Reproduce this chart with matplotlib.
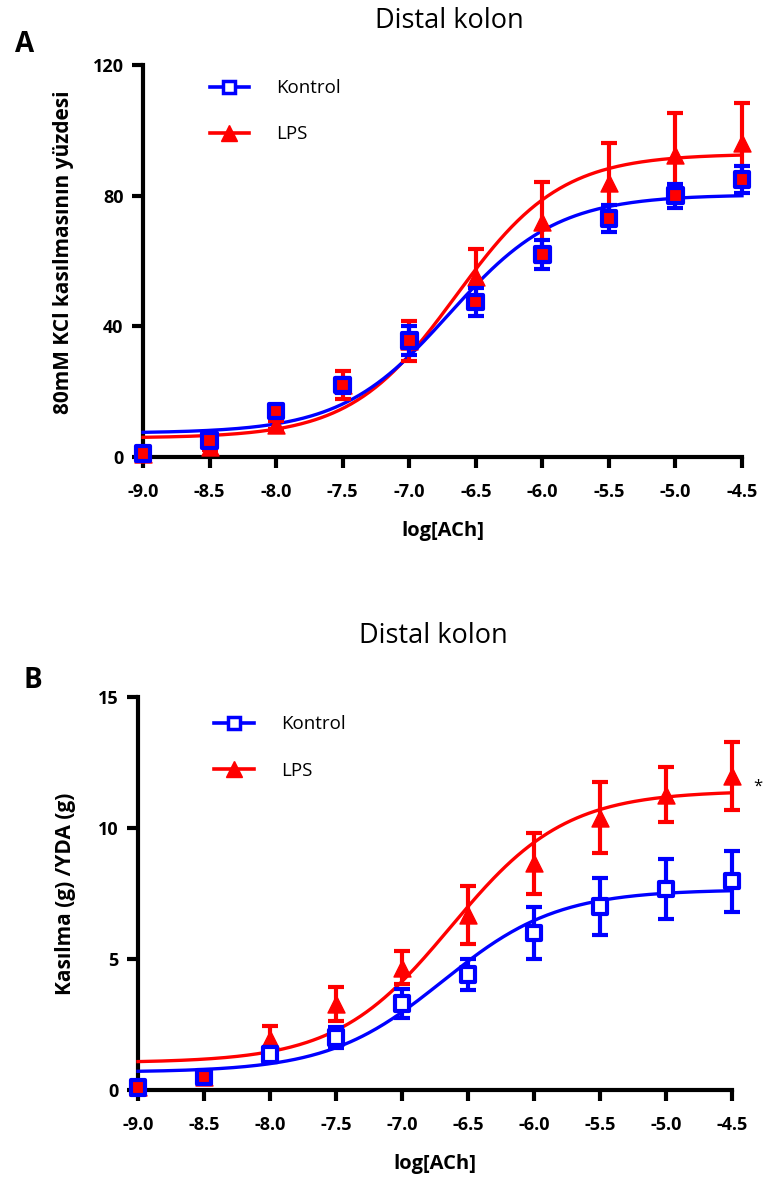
import numpy as np
import matplotlib
matplotlib.use("Agg")
import matplotlib.pyplot as plt

FONT = ["Open Sans", "DejaVu Sans"]
plt.rcParams["font.family"] = FONT
plt.rcParams["axes.unicode_minus"] = False

log_ach = [-9.0, -8.5, -8.0, -7.5, -7.0, -6.5, -6.0, -5.5, -5.0, -4.5]

# panel A: % of 80 mM KCl contraction
a_kontrol = [1.0, 5.1, 14.1, 22.0, 35.7, 47.5, 62.0, 73.0, 80.0, 85.0]
a_kontrol_sem = [0.8, 1.2, 1.5, 2.3, 4.4, 4.3, 4.3, 4.2, 3.7, 4.2]
a_lps = [1.0, 3.2, 9.8, 22.0, 35.5, 55.0, 72.0, 84.0, 92.5, 96.0]
a_lps_sem = [0.8, 1.2, 1.2, 4.3, 6.2, 8.7, 12.2, 12.0, 12.8, 12.3]

# panel B: contraction (g) / wet tissue weight (g)
b_kontrol = [0.1, 0.5, 1.35, 2.0, 3.3, 4.4, 6.0, 7.0, 7.67, 7.97]
b_kontrol_sem = [0.1, 0.15, 0.3, 0.4, 0.55, 0.6, 1.0, 1.1, 1.15, 1.17]
b_lps = [0.1, 0.5, 1.95, 3.3, 4.67, 6.67, 8.65, 10.4, 11.26, 12.0]
b_lps_sem = [0.1, 0.15, 0.5, 0.65, 0.62, 1.1, 1.15, 1.35, 1.05, 1.3]

# sigmoidal fits: bottom, top, logEC50, hill slope
a_kontrol_fit = [7.3, 80.3, -6.70, 1.07]
a_lps_fit = [5.8, 92.8, -6.65, 1.10]
b_kontrol_fit = [0.68, 7.65, -6.69, 1.0]
b_lps_fit = [1.04, 11.42, -6.63, 1.0]

BLUE = "#0000ff"
RED = "#ff0000"


def fit_curve(x, p):
    bottom, top, ec50, hill = p
    return bottom + (top - bottom) / (1 + 10 ** ((ec50 - x) * hill))


fig = plt.figure(figsize=(7.63, 11.83), dpi=100)
W, H = 763, 1183


def add_ax(left, top, right, bottom):
    return fig.add_axes([left / W, 1 - bottom / H, (right - left) / W, (bottom - top) / H])


def draw_panel(ax, kon, kon_sem, lps, lps_sem, kfit, lfit, ymax, yticks, kon_face, leg_xy):
    xs = np.linspace(log_ach[0], log_ach[-1], 300)
    ax.plot(xs, fit_curve(xs, lfit), color=RED, lw=2.4, zorder=3, clip_on=False)
    ax.plot(xs, fit_curve(xs, kfit), color=BLUE, lw=2.4, zorder=4, clip_on=False)

    ax.errorbar(log_ach, lps, yerr=lps_sem, fmt="none", ecolor=RED, elinewidth=3,
                capsize=6, capthick=3, zorder=5, clip_on=False)
    ax.scatter(log_ach, lps, marker="^", s=150, color=RED, zorder=6, clip_on=False)
    ax.errorbar(log_ach, kon, yerr=kon_sem, fmt="none", ecolor=BLUE, elinewidth=3,
                capsize=6, capthick=3, zorder=7, clip_on=False)
    ax.scatter(log_ach, kon, marker="s", s=110, facecolors=kon_face, edgecolors=BLUE,
               linewidths=3, zorder=8, clip_on=False)

    # legend handles
    ax.plot([], [], color=BLUE, lw=2.6, marker="s", ms=9, mfc="white", mec=BLUE,
            mew=2.5, label="Kontrol")
    ax.plot([], [], color=RED, lw=2.6, marker="^", ms=11, label="LPS")
    ax.legend(loc="upper left", bbox_to_anchor=leg_xy, frameon=False,
              handlelength=2.1, handletextpad=1.45, labelspacing=1.5,
              prop={"size": 13.5, "family": FONT})

    ax.set_xlim(log_ach[0], log_ach[-1])
    ax.set_ylim(0, ymax)
    ax.set_xticks(log_ach)
    ax.set_xticklabels([f"{v:.1f}" for v in log_ach])
    ax.set_yticks(yticks)
    for s in ["top", "right"]:
        ax.spines[s].set_visible(False)
    for s in ["left", "bottom"]:
        ax.spines[s].set_linewidth(3)
    ax.tick_params(axis="both", width=3, length=8, labelsize=13)
    ax.tick_params(axis="x", pad=11)
    ax.tick_params(axis="y", pad=6)
    for lab in ax.get_xticklabels() + ax.get_yticklabels():
        lab.set_fontweight("bold")
    ax.set_xlabel("log[ACh]", fontsize=14.5, fontweight="bold", labelpad=14)


ax1 = add_ax(143, 65, 742, 457)
face_a = [RED] * len(log_ach)
draw_panel(ax1, a_kontrol, a_kontrol_sem, a_lps, a_lps_sem, a_kontrol_fit, a_lps_fit,
           120, [0, 40, 80, 120], face_a, (0.083, 1.007))
ax1.set_ylabel("80mM KCl kasılmasının yüzdesi", fontsize=15, fontweight="bold")
ax1.yaxis.set_label_coords(-0.115, 0.523)

ax2 = add_ax(138, 697, 732, 1090)
face_b = [RED, RED] + ["white"] * (len(log_ach) - 2)
draw_panel(ax2, b_kontrol, b_kontrol_sem, b_lps, b_lps_sem, b_kontrol_fit, b_lps_fit,
           15, [0, 5, 10, 15], face_b, (0.1, 0.996))
ax2.set_ylabel("Kasılma (g) /YDA (g)", fontsize=15, fontweight="bold")
ax2.yaxis.set_label_coords(-0.105, 0.5)
ax2.annotate("*", xy=(log_ach[-1], b_lps[-1]), xytext=(15, -8), textcoords="offset points",
             fontsize=12, ha="left", va="center", annotation_clip=False)

fig.text(449 / W, 1 - 21 / H, "Distal kolon", ha="center", va="center", fontsize=19.5)
fig.text(433 / W, 1 - 636 / H, "Distal kolon", ha="center", va="center", fontsize=19.5)
fig.text(25 / W, 1 - 45 / H, "A", ha="center", va="center", fontsize=20, fontweight="bold")
fig.text(33 / W, 1 - 680 / H, "B", ha="center", va="center", fontsize=20, fontweight="bold")

fig.savefig("out.png", dpi=100)
